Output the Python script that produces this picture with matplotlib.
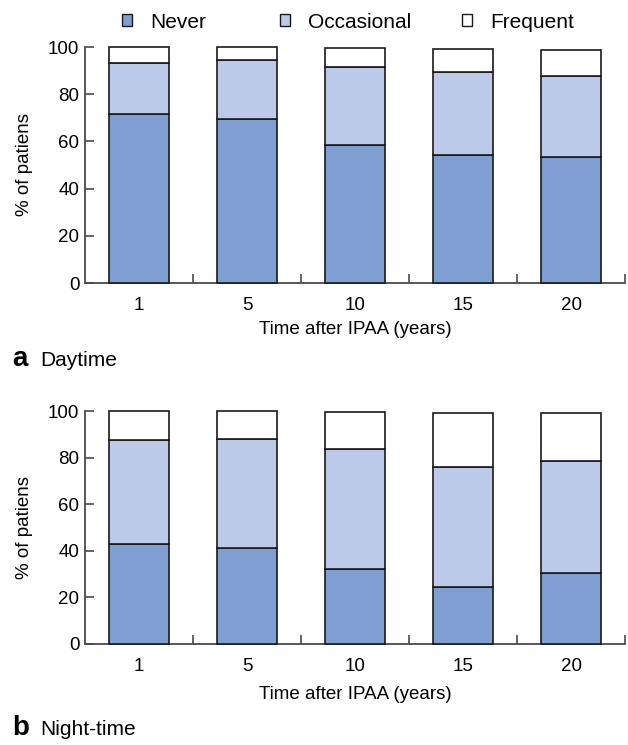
import numpy as np
import matplotlib
matplotlib.use("Agg")
import matplotlib.pyplot as plt
from matplotlib.patches import Patch

plt.rcParams["font.family"] = ["Liberation Sans", "DejaVu Sans"]

years = ["1", "5", "10", "15", "20"]
series = ["Never", "Occasional", "Frequent"]

day_never = [71.5, 69.5, 58.5, 54.3, 53.4]
day_occasional = [21.8, 24.8, 33.2, 35.1, 34.2]
day_frequent = [6.7, 5.7, 7.7, 9.8, 11.1]

night_never = [42.7, 41.1, 32.2, 24.5, 30.5]
night_occasional = [44.8, 47.0, 51.6, 51.4, 47.9]
night_frequent = [12.5, 11.9, 15.6, 23.2, 20.7]

colors = ["#7f9fd3", "#bacae8", "#ffffff"]
edge = "#1a1a1a"
spine_col = "#4a4a4a"


def stacked(ax, parts, xlabelpad):
    x = np.arange(len(years))
    bottom = np.zeros(len(years))
    for vals, c in zip(parts, colors):
        ax.bar(x, vals, width=0.55, bottom=bottom, color=c, edgecolor=edge,
               linewidth=1.2, clip_on=False, zorder=3)
        bottom = bottom + np.array(vals)

    ax.set_xlim(-0.5, len(years) - 0.5)
    ax.set_ylim(0, 100)
    ax.set_xticks(x)
    ax.set_xticklabels(years)
    ax.set_xticks(np.arange(len(years)) + 0.5, minor=True)
    ax.set_yticks([0, 20, 40, 60, 80, 100])

    ax.tick_params(axis="x", which="major", length=0, pad=10, labelsize=13.5)
    ax.tick_params(axis="x", which="minor", direction="in", length=6.5,
                   width=1.2, color=spine_col)
    ax.tick_params(axis="y", direction="in", length=6.5, width=1.2,
                   color=spine_col, pad=4, labelsize=13.5)

    for s in ["top", "right"]:
        ax.spines[s].set_visible(False)
    for s in ["left", "bottom"]:
        ax.spines[s].set_color(spine_col)
        ax.spines[s].set_linewidth(1.3)

    ax.set_xlabel("Time after IPAA (years)", fontsize=13.5, labelpad=xlabelpad)
    ax.set_ylabel("% of patiens", fontsize=13.5, labelpad=11)


fig = plt.figure(figsize=(6.28, 7.45), dpi=100)

ax1 = fig.add_axes([85 / 628, 1 - 283 / 745, 540 / 628, 236 / 745])
stacked(ax1, [day_never, day_occasional, day_frequent], 5)

ax2 = fig.add_axes([85 / 628, 1 - 643.7 / 745, 540 / 628, 232.7 / 745])
stacked(ax2, [night_never, night_occasional, night_frequent], 8)

# legend entries placed one by one along the top
legend_x = [122, 280, 462]
for name, c, lx in zip(series, colors, legend_x):
    h = Patch(facecolor=c, edgecolor=edge, linewidth=1.0)
    fig.legend(handles=[h], labels=[name], loc="center left",
               bbox_to_anchor=(lx / 628, 1 - 22 / 745), frameon=False,
               fontsize=15, handlelength=0.5, handleheight=0.5,
               handletextpad=0.85, borderpad=0, borderaxespad=0)

fig.text(12 / 628, 1 - 366 / 745, "a", fontsize=20, fontweight="bold",
         va="baseline")
fig.text(40 / 628, 1 - 366 / 745, "Daytime", fontsize=15, va="baseline")
fig.text(12 / 628, 1 - 735 / 745, "b", fontsize=20, fontweight="bold",
         va="baseline")
fig.text(40 / 628, 1 - 735 / 745, "Night-time", fontsize=15, va="baseline")

fig.savefig("out.png", dpi=100)
